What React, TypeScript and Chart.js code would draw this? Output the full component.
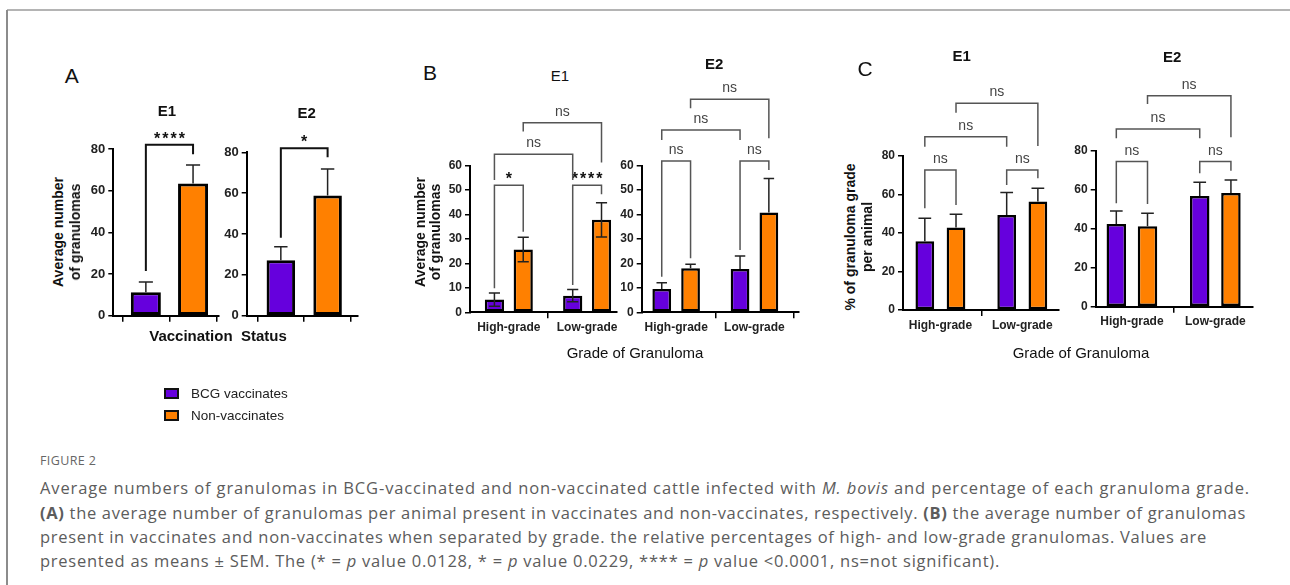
import React, { useEffect, useLayoutEffect, useRef } from 'react';
import { Chart, registerables } from 'chart.js';

Chart.register(...registerables);

const FONT = '"Liberation Sans", Arial, Helvetica, sans-serif';
const CAPTION_FONT = '"Open Sans", "Noto Sans", sans-serif';
const PURPLE = '#6600dd';
const ORANGE = '#ff8000';

// ---------- data ----------
const SERIES = ['BCG vaccinates', 'Non-vaccinates'];
const GRADES = ['High-grade', 'Low-grade'];

// Panel A (average number of granulomas), [BCG, Non]
const A_E1_MEANS = [11.2, 63.5];
const A_E1_SEM = [5.0, 8.8];
const A_E2_MEANS = [27.2, 58.8];
const A_E2_SEM = [6.6, 13.0];

// Panel B (average number by grade), [High, Low]
const B_E1_BCG = [5.2, 6.8];
const B_E1_BCG_SEM = [2.7, 2.5];
const B_E1_NON = [25.7, 37.8];
const B_E1_NON_SEM = [5.0, 7.0];
const B_E2_BCG = [9.5, 17.7];
const B_E2_BCG_SEM = [2.6, 5.3];
const B_E2_NON = [18.0, 40.8];
const B_E2_NON_SEM = [1.7, 14.0];

// Panel C (% of granuloma grade per animal), [High, Low]
const C_E1_BCG = [35.7, 49.3];
const C_E1_BCG_SEM = [12.0, 11.8];
const C_E1_NON = [42.8, 56.3];
const C_E1_NON_SEM = [7.0, 7.0];
const C_E2_BCG = [42.4, 56.8];
const C_E2_BCG_SEM = [6.7, 7.0];
const C_E2_NON = [41.2, 58.3];
const C_E2_NON_SEM = [6.7, 6.7];

// significance brackets: [from bar, to bar, bracket level, left leg end, right leg end, label] (data units)
type Bracket = [string, string, number, number, number, string];
const A_E1_BRACKETS: Bracket[] = [['p', 'o', 82, 21.5, 77.5, '****']];
const A_E2_BRACKETS: Bracket[] = [['p', 'o', 82, 38.2, 77.6, '*']];
const B_E1_BRACKETS: Bracket[] = [
  ['p1', 'o1', 51.9, 9.8, 32.9, '*'],
  ['p2', 'o2', 51.9, 11.2, 48.2, '****'],
  ['p1', 'p2', 64.6, 54.1, 54.1, 'ns'],
  ['o1', 'o2', 77.5, 73.9, 61.2, 'ns'],
];
const B_E2_BRACKETS: Bracket[] = [
  ['p1', 'o1', 61.9, 14.6, 22.1, 'ns'],
  ['p2', 'o2', 61.9, 25.5, 58.2, 'ns'],
  ['p1', 'p2', 74.6, 70.5, 70.5, 'ns'],
  ['o1', 'o2', 87.2, 83.5, 71.2, 'ns'],
];
const C_E1_BRACKETS: Bracket[] = [
  ['p1', 'o1', 72.7, 52.8, 54.5, 'ns'],
  ['p2', 'o2', 72.7, 64.9, 68.4, 'ns'],
  ['p1', 'p2', 90.0, 84.8, 84.8, 'ns'],
  ['o1', 'o2', 107.4, 102.5, 85.2, 'ns'],
];
const C_E2_BRACKETS: Bracket[] = [
  ['p1', 'o1', 74.4, 53.0, 52.7, 'ns'],
  ['p2', 'o2', 74.4, 68.4, 69.7, 'ns'],
  ['p1', 'p2', 91.1, 86.4, 86.4, 'ns'],
  ['o1', 'o2', 108.2, 103.9, 86.9, 'ns'],
];

const REF_A: Record<string, [number, number]> = { p: [0, 0], o: [1, 0] };
const REF_G: Record<string, [number, number]> = { p1: [0, 0], o1: [1, 0], p2: [0, 1], o2: [1, 1] };

// ---------- panel config ----------
type Series = { label: string; points: { x: number; y: number }[]; sem: number[]; color: string };
type PanelCfg = {
  box: { left: number; top: number; width: number; height: number };
  area: { x0: number; x1: number; yTop: number; yBottom: number };
  xMin: number; xMax: number; yMax: number; yStep: number;
  series: Series[];
  grouped: boolean; catPct: number; barPct: number;
  xLabels: string[];
  errMode: 'up' | 'both';
  capRatio: number;
  brackets: Bracket[];
  refs: Record<string, [number, number]>;
  bracketColor: string; bracketWidth: number;
  tickSize: number; borderW: number;
};

function singleSeries(means: number[], sem: number[]): Series[] {
  return [
    { label: SERIES[0], points: [{ x: 0, y: means[0] }], sem: [sem[0]], color: PURPLE },
    { label: SERIES[1], points: [{ x: 1, y: means[1] }], sem: [sem[1]], color: ORANGE },
  ];
}
function groupSeries(bcg: number[], bcgSem: number[], non: number[], nonSem: number[]): Series[] {
  return [
    { label: SERIES[0], points: bcg.map((y, i) => ({ x: i, y })), sem: bcgSem, color: PURPLE },
    { label: SERIES[1], points: non.map((y, i) => ({ x: i, y })), sem: nonSem, color: ORANGE },
  ];
}

const PANELS: PanelCfg[] = [
  {
    box: { left: 70, top: 100, width: 160, height: 245 },
    area: { x0: 113.3, x1: 219, yTop: 149, yBottom: 315.7 },
    xMin: -0.69, xMax: 1.55, yMax: 80, yStep: 20,
    series: singleSeries(A_E1_MEANS, A_E1_SEM), grouped: false, catPct: 1, barPct: 0.636,
    xLabels: ['', ''], errMode: 'up', capRatio: 0.47,
    brackets: A_E1_BRACKETS, refs: REF_A, bracketColor: '#111', bracketWidth: 2,
    tickSize: 13, borderW: 3,
  },
  {
    box: { left: 205, top: 100, width: 165, height: 245 },
    area: { x0: 246.7, x1: 358, yTop: 152.3, yBottom: 315.7 },
    xMin: -0.73, xMax: 1.65, yMax: 80, yStep: 20,
    series: singleSeries(A_E2_MEANS, A_E2_SEM), grouped: false, catPct: 1, barPct: 0.61,
    xLabels: ['', ''], errMode: 'up', capRatio: 0.47,
    brackets: A_E2_BRACKETS, refs: REF_A, bracketColor: '#111', bracketWidth: 2,
    tickSize: 13, borderW: 3,
  },
  {
    box: { left: 425, top: 90, width: 200, height: 255 },
    area: { x0: 470, x1: 616.7, yTop: 165.5, yBottom: 312.3 },
    xMin: -0.496, xMax: 1.378, yMax: 60, yStep: 10,
    series: groupSeries(B_E1_BCG, B_E1_BCG_SEM, B_E1_NON, B_E1_NON_SEM), grouped: true, catPct: 0.736, barPct: 0.667,
    xLabels: GRADES, errMode: 'both', capRatio: 0.58,
    brackets: B_E1_BRACKETS, refs: REF_G, bracketColor: '#555', bracketWidth: 1.5,
    tickSize: 12, borderW: 2.5,
  },
  {
    box: { left: 600, top: 70, width: 210, height: 275 },
    area: { x0: 641.7, x1: 798.3, yTop: 165.7, yBottom: 312.3 },
    xMin: -0.44, xMax: 1.56, yMax: 60, yStep: 10,
    series: groupSeries(B_E2_BCG, B_E2_BCG_SEM, B_E2_NON, B_E2_NON_SEM), grouped: true, catPct: 0.736, barPct: 0.65,
    xLabels: GRADES, errMode: 'up', capRatio: 0.56,
    brackets: B_E2_BRACKETS, refs: REF_G, bracketColor: '#555', bracketWidth: 1.5,
    tickSize: 12, borderW: 2.5,
  },
  {
    box: { left: 860, top: 70, width: 210, height: 275 },
    area: { x0: 903, x1: 1058.3, yTop: 156, yBottom: 310 },
    xMin: -0.457, xMax: 1.44, yMax: 80, yStep: 20,
    series: groupSeries(C_E1_BCG, C_E1_BCG_SEM, C_E1_NON, C_E1_NON_SEM), grouped: true, catPct: 0.762, barPct: 0.6,
    xLabels: GRADES, errMode: 'up', capRatio: 0.68,
    brackets: C_E1_BRACKETS, refs: REF_G, bracketColor: '#555', bracketWidth: 1.5,
    tickSize: 12, borderW: 2.5,
  },
  {
    box: { left: 1055, top: 65, width: 215, height: 280 },
    area: { x0: 1095.7, x1: 1252.7, yTop: 150.7, yBottom: 306.7 },
    xMin: -0.434, xMax: 1.448, yMax: 80, yStep: 20,
    series: groupSeries(C_E2_BCG, C_E2_BCG_SEM, C_E2_NON, C_E2_NON_SEM), grouped: true, catPct: 0.748, barPct: 0.625,
    xLabels: GRADES, errMode: 'up', capRatio: 0.65,
    brackets: C_E2_BRACKETS, refs: REF_G, bracketColor: '#555', bracketWidth: 1.5,
    tickSize: 12, borderW: 2.5,
  },
];

const YW = 30;
const XH = 22;

function Panel({ cfg, idx }: { cfg: PanelCfg; idx: number }) {
  const ref = useRef<HTMLCanvasElement>(null);
  useEffect(() => {
    const canvas = ref.current;
    if (!canvas) return;
    const { box, area } = cfg;
    const padding = {
      left: area.x0 - box.left - YW,
      right: box.left + box.width - area.x1,
      top: area.yTop - box.top,
      bottom: box.top + box.height - area.yBottom - XH,
    };
    const annot = {
      id: 'annot' + idx,
      afterDatasetsDraw(chart: any) {
        const ctx = chart.ctx;
        const ys = chart.scales.y;
        ctx.save();
        ctx.strokeStyle = '#222';
        ctx.lineWidth = 1.5;
        cfg.series.forEach((s, di) => {
          const meta = chart.getDatasetMeta(di);
          meta.data.forEach((el: any, j: number) => {
            const v = s.points[j].y;
            const e = s.sem[j];
            const cx = el.x;
            const cw = el.width * cfg.capRatio;
            const yt = ys.getPixelForValue(v + e);
            const yb = cfg.errMode === 'both' ? ys.getPixelForValue(v - e) : ys.getPixelForValue(v);
            ctx.beginPath();
            ctx.moveTo(cx, yb);
            ctx.lineTo(cx, yt);
            ctx.moveTo(cx - cw / 2, yt);
            ctx.lineTo(cx + cw / 2, yt);
            if (cfg.errMode === 'both') {
              ctx.moveTo(cx - cw / 2, yb);
              ctx.lineTo(cx + cw / 2, yb);
            }
            ctx.stroke();
          });
        });
        ctx.restore();
      },
      afterDraw(chart: any) {
        const ctx = chart.ctx;
        const ys = chart.scales.y;
        ctx.save();
        cfg.brackets.forEach(([a, b, level, le, re, label]) => {
          const ra = cfg.refs[a];
          const rb = cfg.refs[b];
          const xa = chart.getDatasetMeta(ra[0]).data[ra[1]].x;
          const xb = chart.getDatasetMeta(rb[0]).data[rb[1]].x;
          const yTop = ys.getPixelForValue(level);
          const yl = ys.getPixelForValue(le);
          const yr = ys.getPixelForValue(re);
          ctx.strokeStyle = cfg.bracketColor;
          ctx.lineWidth = cfg.bracketWidth;
          ctx.lineJoin = 'miter';
          ctx.beginPath();
          ctx.moveTo(xa, yl);
          ctx.lineTo(xa, yTop);
          ctx.lineTo(xb, yTop);
          ctx.lineTo(xb, yr);
          ctx.stroke();
          ctx.textAlign = 'center';
          ctx.textBaseline = 'alphabetic';
          const mid = (xa + xb) / 2;
          if (label === 'ns') {
            ctx.font = `14px ${FONT}`;
            ctx.fillStyle = '#444';
            ctx.fillText(label, mid, yTop - 7);
          } else {
            ctx.font = `bold 16px ${FONT}`;
            ctx.fillStyle = '#111';
            (ctx as any).letterSpacing = '2px';
            ctx.fillText(label, mid + 1, yTop - 1);
            (ctx as any).letterSpacing = '0px';
          }
        });
        ctx.restore();
      },
    };

    const chart = new Chart(canvas, {
      type: 'bar',
      data: {
        datasets: cfg.series.map((s) => ({
          label: s.label,
          data: s.points,
          backgroundColor: s.color,
          borderColor: '#000',
          borderWidth: cfg.borderW,
          borderSkipped: false,
          grouped: cfg.grouped,
          categoryPercentage: cfg.catPct,
          barPercentage: cfg.barPct,
        })) as any,
      },
      options: {
        animation: false,
        responsive: false,
        maintainAspectRatio: false,
        layout: { padding },
        plugins: { legend: { display: false }, tooltip: { enabled: false }, title: { display: false } },
        scales: {
          x: {
            type: 'linear',
            min: cfg.xMin,
            max: cfg.xMax,
            offset: false,
            afterBuildTicks: (s: any) => {
              s.ticks = cfg.xLabels.map((_, i) => ({ value: i }));
            },
            afterFit: (s: any) => {
              s.height = XH;
            },
            grid: { drawOnChartArea: false, drawTicks: true, tickLength: 6, color: '#000', lineWidth: 1.5 },
            border: { display: true, color: '#000', width: 2 },
            ticks: {
              autoSkip: false,
              maxRotation: 0,
              padding: 2,
              color: '#222',
              font: { family: FONT, size: 12, weight: 'bold' },
              callback: (v: any) => cfg.xLabels[Math.round(Number(v))] ?? '',
            },
          },
          y: {
            type: 'linear',
            min: 0,
            max: cfg.yMax,
            afterFit: (s: any) => {
              s.width = YW;
            },
            grid: { drawOnChartArea: false, drawTicks: true, tickLength: 5, color: '#000', lineWidth: 1.5 },
            border: { display: true, color: '#000', width: 2 },
            ticks: {
              stepSize: cfg.yStep,
              padding: 3,
              color: '#222',
              font: { family: FONT, size: cfg.tickSize, weight: 'bold' },
            },
          },
        },
      } as any,
      plugins: [annot as any],
    });
    return () => chart.destroy();
  }, [cfg, idx]);
  const { box } = cfg;
  return (
    <canvas
      ref={ref}
      width={box.width}
      height={box.height}
      style={{ position: 'absolute', left: box.left, top: box.top, width: box.width, height: box.height }}
    />
  );
}

function T(props: {
  x: number; y: number; children: React.ReactNode; size?: number; weight?: number | string;
  color?: string; rotate?: boolean; anchor?: 'center' | 'left'; family?: string; spacing?: number;
}) {
  const { x, y, children, size = 14, weight = 400, color = '#111', rotate = false, anchor = 'center', family = FONT, spacing } = props;
  const tx = anchor === 'center' ? '-50%' : '0';
  return (
    <div
      style={{
        position: 'absolute', left: x, top: y, whiteSpace: 'pre', lineHeight: 1,
        fontFamily: family, fontSize: size, fontWeight: weight as any, color,
        letterSpacing: spacing, transform: `translate(${tx}, -50%)${rotate ? ' rotate(-90deg)' : ''}`,
      }}
    >
      {children}
    </div>
  );
}

// caption lines: [centre y, right end x]
const CAPTION_Y = [488, 512.5, 537, 561];
const CAPTION_END = [1250, 1246, 1207, 1000];

function Caption() {
  const refs = useRef<(HTMLDivElement | null)[]>([]);
  useLayoutEffect(() => {
    refs.current.forEach((el, i) => {
      if (!el) return;
      el.style.letterSpacing = '0px';
      const w = el.getBoundingClientRect().width;
      const n = (el.textContent || '').length;
      const target = CAPTION_END[i] - 40;
      el.style.letterSpacing = `${(target - w) / n}px`;
    });
  }, []);
  const lines: React.ReactNode[] = [
    <>Average numbers of granulomas in BCG-vaccinated and non-vaccinated cattle infected with <i>M. bovis</i> and percentage of each granuloma grade.</>,
    <><b>(A)</b> the average number of granulomas per animal present in vaccinates and non-vaccinates, respectively. <b>(B)</b> the average number of granulomas</>,
    <>present in vaccinates and non-vaccinates when separated by grade. the relative percentages of high- and low-grade granulomas. Values are</>,
    <>presented as means ± SEM. The (* = <i>p</i> value 0.0128, * = <i>p</i> value 0.0229, **** = <i>p</i> value &lt;0.0001, ns=not significant).</>,
  ];
  return (
    <>
      <T x={40} y={461} size={12.5} color="#666" anchor="left" family={CAPTION_FONT} spacing={0.4}>FIGURE 2</T>
      {lines.map((l, i) => (
        <div
          key={i}
          ref={(el) => {
            refs.current[i] = el;
          }}
          style={{
            position: 'absolute', left: 40, top: CAPTION_Y[i], transform: 'translateY(-50%)',
            whiteSpace: 'pre', lineHeight: 1, fontFamily: CAPTION_FONT, fontSize: 16.5, color: '#5c5c5c',
          }}
        >
          {l}
        </div>
      ))}
    </>
  );
}

function Swatch({ x, y, color }: { x: number; y: number; color: string }) {
  return (
    <div
      style={{
        position: 'absolute', left: x, top: y, width: 15, height: 11, boxSizing: 'border-box',
        background: color, border: '2px solid #111',
      }}
    />
  );
}

export default function App() {
  return (
    <div
      style={{
        position: 'absolute', left: 0, top: 0, width: 1290, height: 585, background: '#fff',
        overflow: 'hidden', fontFamily: FONT,
      }}
    >
      <div style={{ position: 'absolute', left: 7, top: 9, width: 1283, height: 2, background: '#b4b4b4' }} />
      <div style={{ position: 'absolute', left: 6, top: 10, width: 2, height: 575, background: '#8c8c8c' }} />

      {PANELS.map((p, i) => (
        <Panel key={i} cfg={p} idx={i} />
      ))}

      {/* Panel A texts */}
      <T x={71.7} y={75} size={21}>A</T>
      <T x={167} y={110} size={15} weight="bold">E1</T>
      <T x={306.7} y={111.7} size={15} weight="bold">E2</T>
      <T x={58} y={232} size={14} weight="bold" rotate>Average number</T>
      <T x={75} y={232} size={14} weight="bold" rotate>of granulomas</T>
      <T x={218} y={335} size={15} weight="bold">{'Vaccination  Status'}</T>

      {/* Panel B texts */}
      <T x={430} y={71.7} size={21}>B</T>
      <T x={560} y={75} size={15}>E1</T>
      <T x={714.3} y={62.7} size={15} weight="bold">E2</T>
      <T x={420} y={232} size={14} weight="bold" rotate>Average number</T>
      <T x={435} y={232} size={14} weight="bold" rotate>of granulomas</T>
      <T x={635} y={352} size={15}>Grade of Granuloma</T>

      {/* Panel C texts */}
      <T x={865} y={68.3} size={21}>C</T>
      <T x={961.7} y={55} size={15} weight="bold">E1</T>
      <T x={1172.3} y={56} size={15} weight="bold">E2</T>
      <T x={850} y={236.7} size={14} weight="bold" rotate>% of granuloma grade</T>
      <T x={866.7} y={236.7} size={14} weight="bold" rotate>per animal</T>
      <T x={1081} y={352.3} size={15}>Grade of Granuloma</T>

      {/* Legend */}
      <Swatch x={164} y={388} color={PURPLE} />
      <T x={191} y={393.5} size={13.5} color="#222" anchor="left">{SERIES[0]}</T>
      <Swatch x={164} y={410} color={ORANGE} />
      <T x={191} y={415.5} size={13.5} color="#222" anchor="left">{SERIES[1]}</T>

      <Caption />
    </div>
  );
}
